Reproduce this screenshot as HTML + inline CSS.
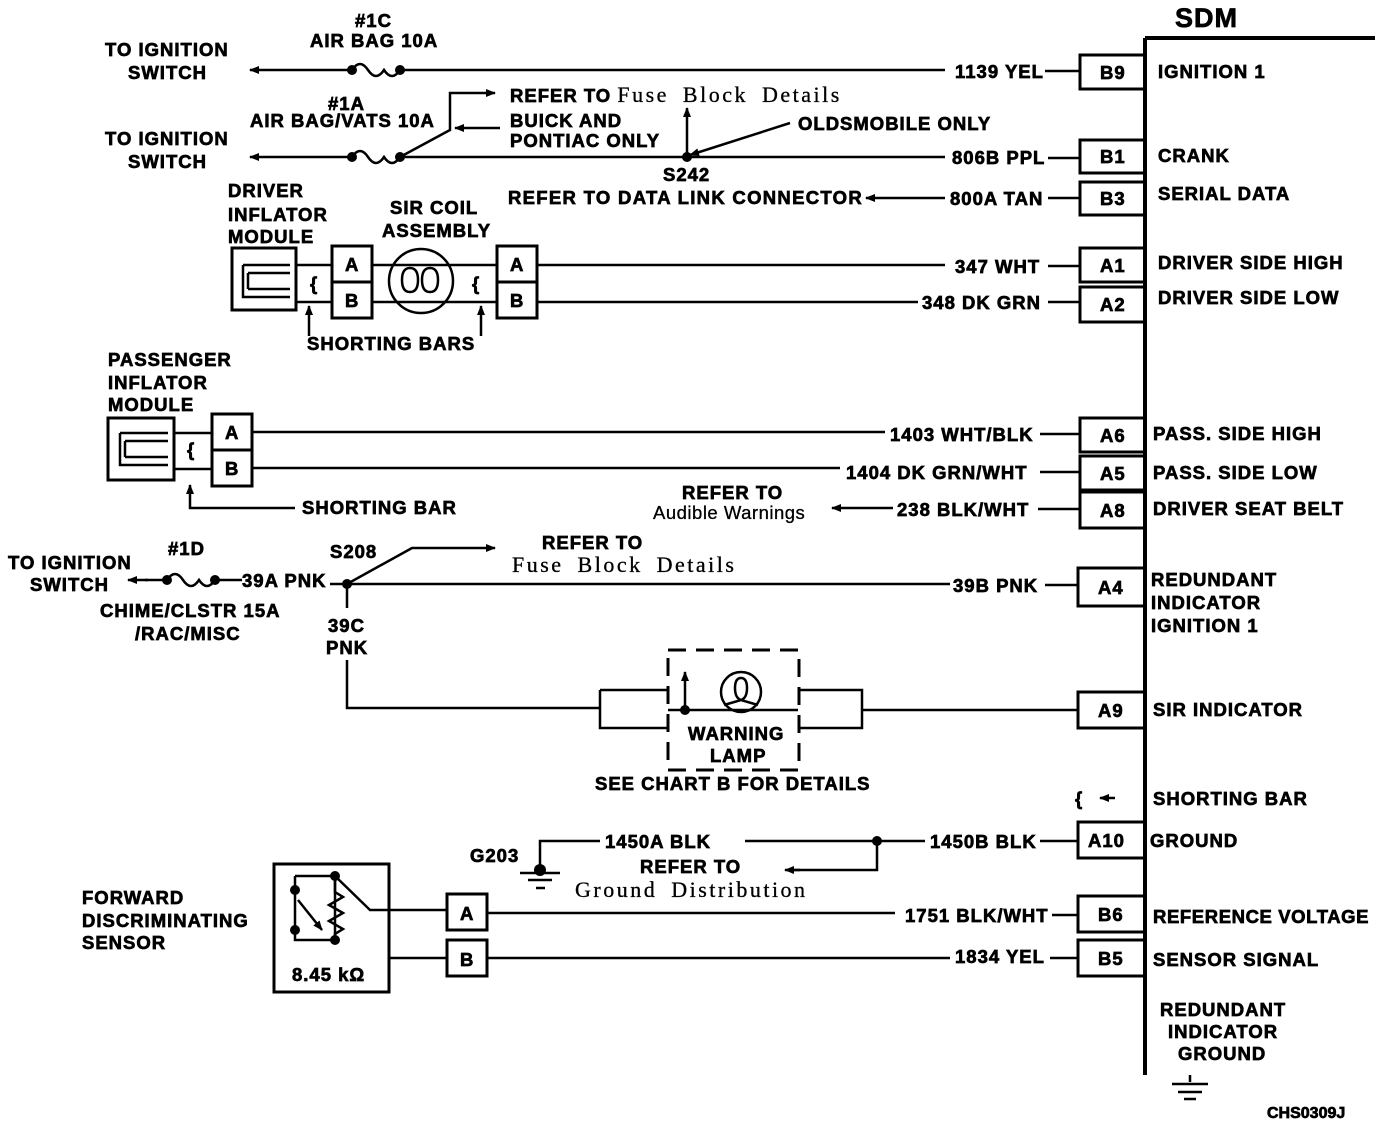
<!DOCTYPE html>
<html><head><style>
html,body{margin:0;padding:0;background:#fff;}
svg{display:block;}
text{font-family:"Liberation Sans",sans-serif;font-weight:bold;font-size:18.5px;letter-spacing:1px;fill:#000;stroke:#000;stroke-width:0.7px;}
.s{font-family:"Liberation Serif",serif;font-weight:normal;font-size:22px;letter-spacing:2.5px;word-spacing:6px;stroke-width:0.3px;}
</style></head><body>
<svg width="1392" height="1126" viewBox="0 0 1392 1126" xmlns="http://www.w3.org/2000/svg">
<defs><marker id="ar" markerWidth="10" markerHeight="8" refX="9" refY="4" orient="auto" markerUnits="userSpaceOnUse"><path d="M0,0 L10,4 L0,8 z" fill="#000"/></marker></defs>
<g stroke="#000" stroke-width="2.5" fill="none">
<path d="M1145,38 V1075 M1145,38 H1375" stroke-width="4"/>
<path d="M1190,1075 V1082 M1172,1084 H1208 M1178,1092 H1202 M1184,1099 H1196"/>
<g stroke-width="3">
<rect x="1080" y="55" width="65" height="34"/>
<rect x="1080" y="140" width="65" height="33"/>
<rect x="1080" y="182" width="65" height="33"/>
<rect x="1080" y="248" width="65" height="34"/>
<rect x="1080" y="287" width="65" height="35"/>
<rect x="1080" y="418" width="65" height="34"/>
<rect x="1080" y="456" width="65" height="34"/>
<rect x="1080" y="492" width="65" height="36"/>
<rect x="1078" y="568" width="67" height="38"/>
<rect x="1078" y="692" width="67" height="36"/>
<rect x="1078" y="822" width="67" height="36"/>
<rect x="1078" y="896" width="67" height="36"/>
<rect x="1078" y="940" width="67" height="36"/>
</g>
<path d="M400,70 H945 M1045,71 H1080"/>
<path d="M352,70 H250" marker-end="url(#ar)"/>
<path d="M352,70 q8,-12 16,0 t16,0 q8,12 16,0"/>
<path d="M400,157 H945 M1048,158 H1080"/>
<path d="M352,157 H250" marker-end="url(#ar)"/>
<path d="M352,157 q8,-12 16,0 t16,0 q8,12 16,0"/>
<path d="M400,157 L450,130 V93 H495" marker-end="url(#ar)"/>
<path d="M500,128 H455" marker-end="url(#ar)"/>
<path d="M687,157 V108" marker-end="url(#ar)"/>
<path d="M790,123 L690,155" marker-end="url(#ar)"/>
<path d="M945,198 H866" marker-end="url(#ar)"/>
<path d="M1048,198 H1080"/>
<rect x="232" y="248" width="64" height="62" stroke-width="3"/>
<path d="M243,265 H290 M243,265 V297 H290 M248,273 H290 M248,289 H290 M248,273 V289" />
<path d="M296,265 H332 M296,302 H332"/>
<rect x="332" y="246" width="40" height="36" stroke-width="3"/>
<rect x="332" y="282" width="40" height="36" stroke-width="3"/>
<path d="M372,265 H497 M372,302 H497"/>
<circle cx="421" cy="281" r="32"/>
<path d="M410,268 q-8,0 -8,12 t8,12 q8,0 8,-12 t-8,-12 M430,268 q-8,0 -8,12 t8,12 q8,0 8,-12 t-8,-12" />
<rect x="497" y="246" width="40" height="36" stroke-width="3"/>
<rect x="497" y="282" width="40" height="36" stroke-width="3"/>
<path d="M537,265 H945 M1048,266 H1080 M537,302 H918 M1048,302 H1080"/>
<path d="M309,336 V306" marker-end="url(#ar)"/>
<path d="M481,336 V306" marker-end="url(#ar)"/>
<rect x="108" y="418" width="66" height="62" stroke-width="3"/>
<path d="M120,433 H168 M120,433 V465 H168 M125,441 H168 M125,457 H168 M125,441 V457"/>
<path d="M174,433 H212 M174,469 H212"/>
<rect x="212" y="414" width="40" height="36" stroke-width="3"/>
<rect x="212" y="450" width="40" height="36" stroke-width="3"/>
<path d="M252,432 H885 M1040,434 H1080 M252,468 H840 M1040,472 H1080"/>
<path d="M295,508 H190 V485" marker-end="url(#ar)"/>
<path d="M893,508 H832" marker-end="url(#ar)"/>
<path d="M1038,509 H1080"/>
<path d="M242,580 H215 M165,580 H145"/>
<path d="M148,580 H128" marker-end="url(#ar)"/>
<path d="M167,580 q8,-12 16,0 t16,0 q8,12 16,0"/>
<path d="M330,584 H950 M1045,585 H1078"/>
<path d="M347,584 L412,548 H495" marker-end="url(#ar)"/>
<path d="M347,584 V608 M347,660 V708 H600"/>
<path d="M600,690 V728 H668 M600,690 H668 M668,710 H798 M798,690 H862 V728 H798 M862,710 H1078"/>
<rect x="668" y="650" width="131" height="120" stroke-dasharray="18,10" stroke-width="3"/>
<path d="M685,710 V672" marker-end="url(#ar)"/>
<circle cx="741" cy="692" r="20"/>
<path d="M741,678 q-6,0 -6,10 t6,12 q6,-2 6,-12 t-6,-10 M724,705 L741,700 L758,705"/>
<path d="M877,841 H925 M1040,841 H1078"/>
<path d="M600,841 H540 V870 M520,873 H560 M528,880 H552 M536,888 H545 M745,841 H877 V870 H790"/>
<path d="M800,870 H785" marker-end="url(#ar)"/>
<rect x="274" y="864" width="115" height="128" stroke-width="3"/>
<path d="M295,876 H335 V940 H295 V876 M335,876 L370,910 H447 M295,935 V940"/>
<path d="M335,880 V892 l8,5 l-14,8 l14,8 l-14,8 l14,8 l-8,5 V940" />
<path d="M298,900 L322,930" marker-end="url(#ar)"/>
<rect x="447" y="894" width="40" height="36" stroke-width="3"/>
<rect x="447" y="940" width="40" height="36" stroke-width="3"/>
<path d="M487,913 H895 M1052,915 H1078 M389,958 H447 M487,958 H950 M1050,958 H1078"/>
<path d="M1115,798 H1100" marker-end="url(#ar)"/>
</g>
<g fill="#000">
<circle cx="352" cy="70" r="5"/><circle cx="400" cy="70" r="5"/>
<circle cx="352" cy="157" r="5"/><circle cx="400" cy="157" r="5"/>
<circle cx="687" cy="157" r="5"/>
<circle cx="167" cy="580" r="5"/><circle cx="215" cy="580" r="5"/>
<circle cx="347" cy="584" r="5"/>
<circle cx="685" cy="710" r="5"/>
<circle cx="877" cy="841" r="5"/>
<circle cx="540" cy="870" r="6"/>
<circle cx="335" cy="876" r="5"/><circle cx="295" cy="890" r="5"/><circle cx="295" cy="930" r="5"/><circle cx="335" cy="940" r="5"/>
</g>
<text x="1175" y="27" style="font-size:27px">SDM</text>
<text x="1100" y="79">B9</text><text x="1100" y="163">B1</text><text x="1100" y="205">B3</text>
<text x="1100" y="272">A1</text><text x="1100" y="311">A2</text><text x="1100" y="442">A6</text>
<text x="1100" y="480">A5</text><text x="1100" y="517">A8</text><text x="1098" y="594">A4</text>
<text x="1098" y="717">A9</text><text x="1088" y="847">A10</text><text x="1098" y="921">B6</text><text x="1098" y="965">B5</text>
<text x="1158" y="78">IGNITION 1</text><text x="1158" y="162">CRANK</text><text x="1158" y="200">SERIAL DATA</text>
<text x="1158" y="269">DRIVER SIDE HIGH</text><text x="1158" y="304">DRIVER SIDE LOW</text>
<text x="1153" y="440">PASS. SIDE HIGH</text><text x="1153" y="479">PASS. SIDE LOW</text><text x="1153" y="515">DRIVER SEAT BELT</text>
<text x="1151" y="586">REDUNDANT</text><text x="1151" y="609">INDICATOR</text><text x="1151" y="632">IGNITION 1</text>
<text x="1153" y="716">SIR INDICATOR</text><text x="1153" y="805">SHORTING BAR</text><text x="1150" y="847">GROUND</text>
<text x="1153" y="923" style="letter-spacing:0.6px">REFERENCE VOLTAGE</text><text x="1153" y="966">SENSOR SIGNAL</text>
<text x="1160" y="1016">REDUNDANT</text><text x="1168" y="1038">INDICATOR</text><text x="1178" y="1060">GROUND</text>
<text x="1267" y="1118" style="font-size:16px;letter-spacing:0">CHS0309J</text>
<text x="955" y="78">1139 YEL</text><text x="952" y="164">806B PPL</text><text x="950" y="205">800A TAN</text>
<text x="955" y="273">347 WHT</text><text x="922" y="309">348 DK GRN</text>
<text x="890" y="441">1403 WHT/BLK</text><text x="846" y="479">1404 DK GRN/WHT</text><text x="897" y="516">238 BLK/WHT</text>
<text x="953" y="592">39B PNK</text><text x="930" y="848">1450B BLK</text><text x="905" y="922">1751 BLK/WHT</text><text x="955" y="963">1834 YEL</text>
<text x="105" y="56">TO IGNITION</text><text x="128" y="79">SWITCH</text>
<text x="355" y="27">#1C</text><text x="310" y="47">AIR BAG 10A</text>
<text x="105" y="145">TO IGNITION</text><text x="128" y="168">SWITCH</text>
<text x="328" y="110">#1A</text><text x="250" y="127">AIR BAG/VATS 10A</text>
<text x="510" y="102">REFER TO <tspan class="s">Fuse Block Details</tspan></text>
<text x="510" y="127">BUICK AND</text><text x="510" y="147">PONTIAC ONLY</text>
<text x="798" y="130">OLDSMOBILE ONLY</text><text x="663" y="181">S242</text>
<text x="508" y="204" style="letter-spacing:1.3px">REFER TO DATA LINK CONNECTOR</text>
<text x="228" y="197">DRIVER</text><text x="228" y="221">INFLATOR</text><text x="228" y="243">MODULE</text>
<text x="390" y="214">SIR COIL</text><text x="382" y="237">ASSEMBLY</text>
<text x="345" y="271">A</text><text x="345" y="307">B</text><text x="510" y="271">A</text><text x="510" y="307">B</text>
<text x="310" y="290">{</text><text x="472" y="290">{</text>
<text x="307" y="350">SHORTING BARS</text>
<text x="108" y="366">PASSENGER</text><text x="108" y="389">INFLATOR</text><text x="108" y="411">MODULE</text>
<text x="225" y="439">A</text><text x="225" y="475">B</text><text x="187" y="456">{</text>
<text x="302" y="514">SHORTING BAR</text>
<text x="682" y="499">REFER TO</text><text x="653" y="519" style="font-weight:normal;letter-spacing:0.5px;stroke-width:0.3px">Audible Warnings</text>
<text x="8" y="569">TO IGNITION</text><text x="30" y="591">SWITCH</text>
<text x="168" y="555">#1D</text><text x="242" y="587">39A PNK</text>
<text x="100" y="617">CHIME/CLSTR 15A</text><text x="135" y="640">/RAC/MISC</text>
<text x="330" y="558">S208</text>
<text x="542" y="549">REFER TO</text><text x="512" y="572" class="s">Fuse Block Details</text>
<text x="328" y="632">39C</text><text x="326" y="654">PNK</text>
<text x="688" y="740">WARNING</text><text x="710" y="762">LAMP</text>
<text x="595" y="790">SEE CHART B FOR DETAILS</text>
<text x="1075" y="805">{</text>
<text x="470" y="862">G203</text><text x="605" y="848">1450A BLK</text>
<text x="640" y="873">REFER TO</text><text x="575" y="897" class="s">Ground Distribution</text>
<text x="82" y="904">FORWARD</text><text x="82" y="927">DISCRIMINATING</text><text x="82" y="949">SENSOR</text>
<text x="292" y="981">8.45 kΩ</text>
<text x="460" y="920">A</text><text x="460" y="966">B</text>
</svg>
</body></html>
